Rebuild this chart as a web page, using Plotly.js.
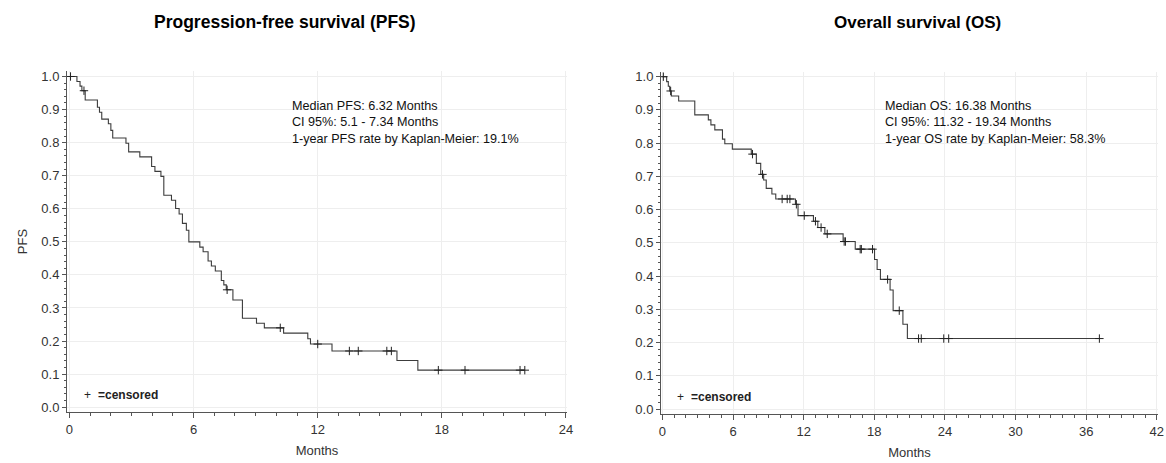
<!DOCTYPE html>
<html>
<head>
<meta charset="utf-8">
<script src="https://cdn.plot.ly/plotly-3.0.1.min.js"></script>
<style>html,body{margin:0;padding:0;background:#fff;}#chart{width:1166px;height:463px;}</style>
</head>
<body>
<div id="chart"></div>
<script>
// ---- Data ----
const pfsEventMonths = [0, 0.36, 0.51, 0.6, 0.76, 1.35, 1.45, 1.56, 1.88, 2.0, 2.09, 2.73, 2.86, 3.4, 3.97, 4.13, 4.42, 4.56, 4.93, 5.13, 5.3, 5.46, 5.65, 5.77, 6.30, 6.46, 6.70, 6.86, 7.05, 7.34, 7.46, 7.58, 7.9, 8.36, 9.04, 9.42, 10.35, 11.52, 11.65, 12.69, 15.83, 16.84];
const pfsSurvival = [1.0, 0.985, 0.971, 0.957, 0.929, 0.907, 0.892, 0.871, 0.857, 0.837, 0.814, 0.798, 0.772, 0.757, 0.728, 0.713, 0.698, 0.641, 0.626, 0.601, 0.584, 0.556, 0.535, 0.500, 0.484, 0.470, 0.442, 0.427, 0.412, 0.383, 0.370, 0.355, 0.324, 0.269, 0.254, 0.240, 0.224, 0.207, 0.191, 0.170, 0.141, 0.112];
const pfsCensoredMonths = [0.05, 0.7, 7.62, 10.19, 12.0, 13.53, 13.96, 15.34, 15.56, 17.83, 19.12, 21.78, 22.01];

const osEventMonths = [0, 0.36, 0.5, 0.62, 0.76, 1.38, 2.75, 3.9, 4.12, 4.45, 5.1, 5.3, 5.94, 7.55, 7.98, 8.35, 8.6, 8.82, 9.3, 9.63, 11.3, 11.52, 12.83, 13.2, 13.8, 15.35, 16.38, 18.02, 18.24, 18.52, 19.34, 19.6, 20.43, 20.81];
const osSurvival = [1.0, 0.985, 0.971, 0.957, 0.942, 0.927, 0.885, 0.870, 0.855, 0.840, 0.812, 0.798, 0.782, 0.767, 0.739, 0.706, 0.689, 0.664, 0.647, 0.632, 0.616, 0.582, 0.565, 0.546, 0.527, 0.504, 0.481, 0.450, 0.420, 0.390, 0.358, 0.296, 0.255, 0.212];
const osCensoredMonths = [0.08, 0.7, 7.65, 8.5, 10.17, 10.6, 10.83, 11.38, 12.05, 13.0, 13.48, 14.0, 15.44, 15.55, 16.8, 16.9, 17.85, 19.13, 20.12, 21.76, 21.99, 23.9, 24.32, 37.12];

const panelTitles = ["Progression-free survival (PFS)", "Overall survival (OS)"];
const pfsStats = ["Median PFS: 6.32 Months", "CI 95%: 5.1 - 7.34 Months", "1-year PFS rate by Kaplan-Meier: 19.1%"];
const osStats = ["Median OS: 16.38 Months", "CI 95%: 11.32 - 19.34 Months", "1-year OS rate by Kaplan-Meier: 58.3%"];
const yTickVals = [0, 0.1, 0.2, 0.3, 0.4, 0.5, 0.6, 0.7, 0.8, 0.9, 1.0];
const yTickText = ["0.0", "0.1", "0.2", "0.3", "0.4", "0.5", "0.6", "0.7", "0.8", "0.9", "1.0"];
const pfsXTicks = [0, 6, 12, 18, 24];
const osXTicks = [0, 6, 12, 18, 24, 30, 36, 42];

// ---- helpers ----
function survAt(times, surv, t) {
  let s = surv[0];
  for (let i = 0; i < times.length; i++) if (times[i] <= t) s = surv[i];
  return s;
}
function stepTrace(times, surv, cens, xa, ya) {
  const last = Math.max(...cens, times[times.length - 1]);
  return {
    type: 'scatter', mode: 'lines', x: times.concat([last]), y: surv.concat([survAt(times, surv, last)]),
    line: {shape: 'hv', color: '#3c3c3c', width: 1.1}, xaxis: xa, yaxis: ya, hoverinfo: 'skip'
  };
}
function censTrace(times, surv, cens, xa, ya) {
  return {
    type: 'scatter', mode: 'markers', x: cens, y: cens.map(t => survAt(times, surv, t)),
    marker: {symbol: 'cross-thin', size: 6, line: {color: '#222', width: 1}}, xaxis: xa, yaxis: ya, hoverinfo: 'skip'
  };
}

const W = 1166, H = 463;
const px = v => v / W, py = v => 1 - v / H;
const font = 'Liberation Sans, Arial, sans-serif';

const axisCommon = {
  showline: true, linecolor: '#555', linewidth: 1, ticks: 'outside', tickcolor: '#555',
  showgrid: true, gridcolor: '#eeeeee', gridwidth: 1, zeroline: false, ticklabeloverflow: 'allow',
  tickfont: {family: font, size: 13, color: '#333'}, fixedrange: true
};

const traces = [
  stepTrace(pfsEventMonths, pfsSurvival, pfsCensoredMonths, 'x', 'y'),
  censTrace(pfsEventMonths, pfsSurvival, pfsCensoredMonths, 'x', 'y'),
  stepTrace(osEventMonths, osSurvival, osCensoredMonths, 'x2', 'y2'),
  censTrace(osEventMonths, osSurvival, osCensoredMonths, 'x2', 'y2')
];

const layout = {
  width: W, height: H, margin: {l: 0, r: 0, t: 0, b: 0},
  paper_bgcolor: '#fff', plot_bgcolor: '#fff', showlegend: false,
  font: {family: font, color: '#333'},
  xaxis: Object.assign({}, axisCommon, {
    domain: [px(67), px(567)], range: [-0.12, 24.05], tickvals: pfsXTicks, ticklen: 5,
    minor: {dtick: 1, tick0: 0, ticks: 'outside', ticklen: 3, tickcolor: '#555', showgrid: false},
    title: {text: 'Months', font: {family: font, size: 13, color: '#333'}, standoff: 10}, anchor: 'y'
  }),
  yaxis: Object.assign({}, axisCommon, {
    domain: [py(412), py(71)], range: [-0.0145, 1.0166], tickvals: yTickVals, ticktext: yTickText, ticklen: 4,
    minor: {dtick: 0.02, tick0: 0, ticks: 'outside', ticklen: 2, tickcolor: '#555', showgrid: false},
    title: {text: 'PFS', font: {family: font, size: 13, color: '#333'}, standoff: 10}, anchor: 'x'
  }),
  xaxis2: Object.assign({}, axisCommon, {
    domain: [px(661), px(1158)], range: [-0.12, 42.1], tickvals: osXTicks, ticklen: 5,
    minor: {dtick: 1, tick0: 0, ticks: 'outside', ticklen: 3, tickcolor: '#555', showgrid: false},
    title: {text: 'Months', font: {family: font, size: 13, color: '#333'}, standoff: 10}, anchor: 'y2'
  }),
  yaxis2: Object.assign({}, axisCommon, {
    domain: [py(414), py(71.5)], range: [-0.015, 1.0156], tickvals: yTickVals, ticktext: yTickText, ticklen: 4,
    minor: {dtick: 0.02, tick0: 0, ticks: 'outside', ticklen: 2, tickcolor: '#555', showgrid: false},
    anchor: 'x2'
  }),
  annotations: [
    {text: '<b>' + panelTitles[0] + '</b>', xref: 'paper', yref: 'paper', x: px(285), y: py(22), xanchor: 'center', yanchor: 'middle', showarrow: false, font: {family: font, size: 17.5, color: '#000'}},
    {text: '<b>' + panelTitles[1] + '</b>', xref: 'paper', yref: 'paper', x: px(917), y: py(22), xanchor: 'center', yanchor: 'middle', showarrow: false, font: {family: font, size: 17, color: '#000'}},
    {text: pfsStats.join('<br>'), align: 'left', xref: 'paper', yref: 'paper', x: px(290), y: py(97), xanchor: 'left', yanchor: 'top', showarrow: false, font: {family: font, size: 12.6, color: '#111'}},
    {text: osStats.join('<br>'), align: 'left', xref: 'paper', yref: 'paper', x: px(883), y: py(97), xanchor: 'left', yanchor: 'top', showarrow: false, font: {family: font, size: 12.6, color: '#111'}},
    {text: '+', xref: 'paper', yref: 'paper', x: px(87.5), y: py(395), xanchor: 'center', yanchor: 'middle', showarrow: false, font: {family: font, size: 12, color: '#222'}},
    {text: '<b>=censored</b>', xref: 'paper', yref: 'paper', x: px(96), y: py(395), xanchor: 'left', yanchor: 'middle', showarrow: false, font: {family: font, size: 12, color: '#222'}},
    {text: '+', xref: 'paper', yref: 'paper', x: px(680), y: py(397), xanchor: 'center', yanchor: 'middle', showarrow: false, font: {family: font, size: 12, color: '#222'}},
    {text: '<b>=censored</b>', xref: 'paper', yref: 'paper', x: px(689), y: py(397), xanchor: 'left', yanchor: 'middle', showarrow: false, font: {family: font, size: 12, color: '#222'}}
  ]
};

Plotly.newPlot('chart', traces, layout, {displayModeBar: false, staticPlot: true});
</script>
</body>
</html>
